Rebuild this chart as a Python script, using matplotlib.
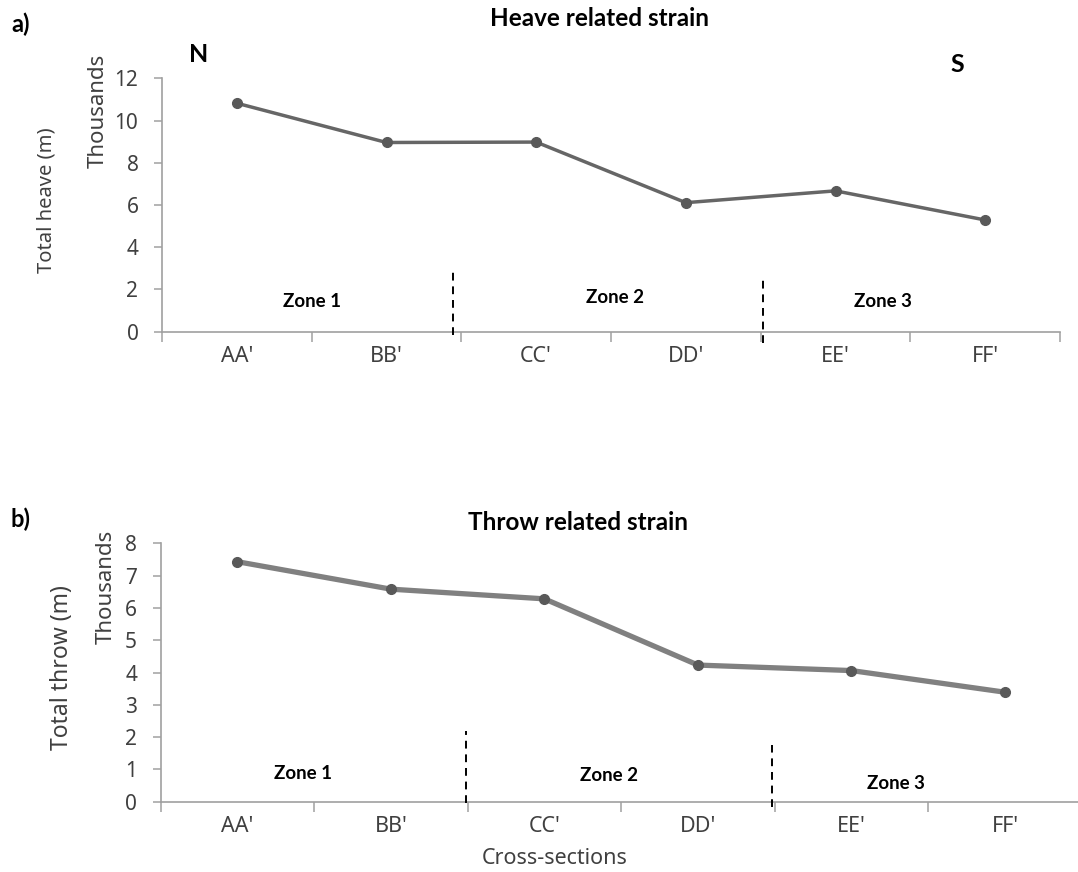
import matplotlib
matplotlib.use("Agg")
import matplotlib.pyplot as plt
from matplotlib.ticker import FixedLocator, NullFormatter

# Cross-section names and the measured totals (in thousands of metres)
sections = ["AA'", "BB'", "CC'", "DD'", "EE'", "FF'"]
heave_total = [10.82, 8.96, 8.98, 6.11, 6.67, 5.29]
throw_total = [7.43, 6.58, 6.28, 4.23, 4.06, 3.39]

heave_ticks = [0, 2, 4, 6, 8, 10, 12]
throw_ticks = [0, 1, 2, 3, 4, 5, 6, 7, 8]

# Zone boundaries: (x, y_bottom, y_top) in data units
heave_bounds = [(1.446, -0.16, 2.89), (3.513, -0.54, 2.45)]
throw_bounds = [(1.489, -0.05, 2.20), (3.482, -0.17, 1.755)]

# Zone annotations: (label, x, y)
zone_names = ["Zone 1", "Zone 2", "Zone 3"]
heave_zone_xy = [(0.50, 1.42), (2.53, 1.63), (4.32, 1.42)]
throw_zone_xy = [(0.43, 0.86), (2.42, 0.80), (4.29, 0.57)]

W, H = 1078, 872
fig = plt.figure(figsize=(W / 100, H / 100), dpi=100)

TICK_FONT = "Noto Sans"
BOLD_FONT = "Lato"
AXIS_GREY = "#a0a0a0"
TEXT_GREY = "#404040"


def px_box(x0, y_top, x1, y_bottom):
    return [x0 / W, 1 - y_bottom / H, (x1 - x0) / W, (y_bottom - y_top) / H]


def style_axes(ax, yticks, ymax):
    n = len(sections)
    x = list(range(n))
    ax.set_xlim(-0.5, n - 0.5)
    ax.set_ylim(0, ymax)
    for s in ("top", "right"):
        ax.spines[s].set_visible(False)
    for s in ("left", "bottom"):
        ax.spines[s].set_color(AXIS_GREY)
        ax.spines[s].set_linewidth(1.2)
    ax.set_yticks(yticks)
    ax.set_yticklabels([str(t) for t in yticks], fontfamily=TICK_FONT,
                       fontsize=15, color=TEXT_GREY)
    ax.tick_params(axis="y", direction="out", length=6, width=1.1,
                   color=AXIS_GREY, pad=11)
    ax.set_xticks(x)
    ax.set_xticklabels(sections, fontfamily=TICK_FONT, fontsize=15.5,
                       color=TEXT_GREY)
    ax.tick_params(axis="x", which="major", length=0, pad=10)
    ax.xaxis.set_minor_locator(FixedLocator([i - 0.5 for i in range(n + 1)]))
    ax.xaxis.set_minor_formatter(NullFormatter())
    ax.tick_params(axis="x", which="minor", direction="out", length=7,
                   width=1.1, color=AXIS_GREY)
    ax.set_facecolor("none")


def draw_zones(ax, bounds, zone_xy):
    for bx, y0, y1 in bounds:
        ax.plot([bx, bx], [y0, y1], color="black", lw=1.4,
                dashes=(4, 3), clip_on=False, zorder=4)
    for name, (zx, zy) in zip(zone_names, zone_xy):
        ax.text(zx, zy, name, ha="center", va="center", fontsize=13.5,
                fontweight="bold", fontfamily=BOLD_FONT, color="black")


# ---- a) Heave related strain ----
ax1 = fig.add_axes(px_box(162, 78.3, 1060, 331.7))
style_axes(ax1, heave_ticks, 12)
ax1.plot(range(len(sections)), heave_total, color="#666666", lw=2.5,
         marker="o", markersize=7, markerfacecolor="#595959",
         markeredgecolor="#595959", zorder=5, clip_on=False)
draw_zones(ax1, heave_bounds, heave_zone_xy)

# ---- b) Throw related strain ----
ax2 = fig.add_axes(px_box(160.7, 543.3, 160.7 + 6 * 153.5, 801.7))
style_axes(ax2, throw_ticks, 8)
ax2.plot(range(len(sections)), throw_total, color="#808080", lw=3.8,
         solid_capstyle="round", zorder=4, clip_on=False)
ax2.plot(range(len(sections)), throw_total, linestyle="none", marker="o",
         markersize=7, markerfacecolor="#595959", markeredgecolor="#595959",
         zorder=5, clip_on=False)
draw_zones(ax2, throw_bounds, throw_zone_xy)


def ftext(x, y, s, **kw):
    fig.text(x / W, 1 - y / H, s, **kw)


bold = dict(fontfamily=BOLD_FONT, fontweight="bold", color="black")
ftext(21, 24, "a)", fontsize=17, ha="center", va="center", **bold)
ftext(21, 519, "b)", fontsize=17, ha="center", va="center", **bold)
ftext(599, 19, "Heave related strain", fontsize=17.5, ha="center",
      va="center", **bold)
ftext(578, 522, "Throw related strain", fontsize=17.5, ha="center",
      va="center", **bold)
ftext(199, 55, "N", fontsize=18, ha="center", va="center", **bold)
ftext(957, 65, "S", fontsize=18, ha="center", va="center", **bold)

lab = dict(fontfamily=TICK_FONT, color=TEXT_GREY, rotation=90,
           ha="center", va="center")
ftext(98, 111, "Thousands", fontsize=16, **lab)
ftext(47, 200, "Total heave (m)", fontsize=14.5, **lab)
ftext(106, 587, "Thousands", fontsize=16, **lab)
ftext(62, 668, "Total throw (m)", fontsize=16.5, **lab)
ftext(555, 858, "Cross-sections", fontsize=15.5, fontfamily=TICK_FONT,
      color=TEXT_GREY, ha="center", va="center")

fig.savefig("out.png", dpi=100, facecolor="white")
